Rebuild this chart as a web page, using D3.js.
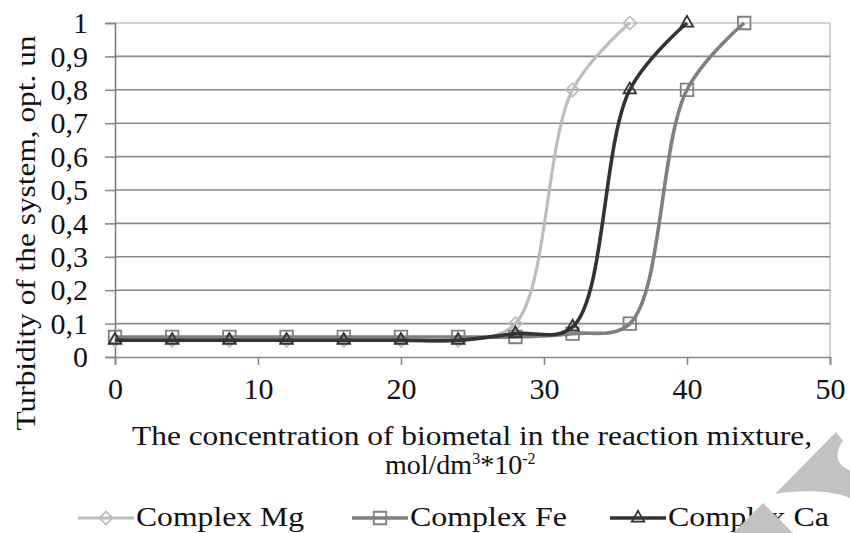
<!DOCTYPE html>
<html>
<head>
<meta charset="utf-8">
<script src="https://cdn.jsdelivr.net/npm/d3@7"></script>
<style>
  body { margin: 0; background: #fff; }
  text { font-family: "Liberation Serif", "Times New Roman", serif; fill: #111; }
</style>
</head>
<body>
<svg id="chart" width="850" height="533"></svg>
<script>
// concentration values (x) and turbidity readings for each complex
var concMg = [0, 4, 8, 12, 16, 20, 24, 28, 32, 36];
var turbMg = [0.05, 0.05, 0.05, 0.05, 0.05, 0.05, 0.05, 0.1, 0.8, 1.0];

var concFe = [0, 4, 8, 12, 16, 20, 24, 28, 32, 36, 40, 44];
var turbFe = [0.06, 0.06, 0.06, 0.06, 0.06, 0.06, 0.06, 0.06, 0.07, 0.1, 0.8, 1.0];

var concCa = [0, 4, 8, 12, 16, 20, 24, 28, 32, 36, 40];
var turbCa = [0.05, 0.05, 0.05, 0.05, 0.05, 0.05, 0.05, 0.07, 0.09, 0.8, 1.0];

var seriesNames = ["Complex Mg", "Complex Fe", "Complex Ca"];
var xTicks = [0, 10, 20, 30, 40, 50];

var svg = d3.select("#chart");

var x = d3.scaleLinear().domain([0, 50]).range([115, 830]);
var y = d3.scaleLinear().domain([0, 1]).range([357, 23]);

// рамка и сетка
svg.append("line")
    .attr("x1", 115).attr("x2", 830).attr("y1", y(1)).attr("y2", y(1))
    .attr("stroke", "#c4c4c4").attr("stroke-width", 1.5);
svg.append("line")
    .attr("x1", 830).attr("x2", 830).attr("y1", y(1)).attr("y2", y(0))
    .attr("stroke", "#c4c4c4").attr("stroke-width", 1.5);

svg.append("g")
    .selectAll("line")
    .data(y.ticks(10).filter(d => d > 0 && d < 1))
    .join("line")
    .attr("x1", 115).attr("x2", 830)
    .attr("y1", d => y(d)).attr("y2", d => y(d))
    .attr("stroke", "#8a8a8a").attr("stroke-width", 1.6);

// y axis
var yAxis = svg.append("g")
    .attr("transform", "translate(115,0)")
    .call(d3.axisLeft(y).ticks(10).tickSize(10).tickPadding(17)
        .tickFormat(d => String(d3.format(".1~f")(d)).replace(".", ",")));
yAxis.select(".domain").attr("stroke", "#777").attr("stroke-width", 1.5);
yAxis.selectAll(".tick line").attr("stroke", "#8a8a8a").attr("stroke-width", 1.6);
yAxis.selectAll(".tick text")
    .attr("font-size", 30)
    .attr("fill", "#111");

// x axis
var xAxis = svg.append("g")
    .attr("transform", "translate(0," + y(0) + ")")
    .call(d3.axisBottom(x).tickValues(xTicks).tickSize(8).tickPadding(13));
xAxis.select(".domain").attr("stroke", "#888").attr("stroke-width", 1.6);
xAxis.selectAll(".tick line").attr("stroke", "#888").attr("stroke-width", 1.6);
xAxis.selectAll(".tick text")
    .attr("font-size", 30)
    .attr("fill", "#111");

var line = d3.line()
    .x(d => x(d[0]))
    .y(d => y(d[1]))
    .curve(d3.curveCatmullRom.alpha(0.5));

var series = [
    { name: seriesNames[0], xs: concMg, ys: turbMg, color: "#bdbdbd", width: 3.2, marker: "diamond" },
    { name: seriesNames[1], xs: concFe, ys: turbFe, color: "#7f7f7f", width: 3.6, marker: "square" },
    { name: seriesNames[2], xs: concCa, ys: turbCa, color: "#333333", width: 3.6, marker: "triangle" }
];

function markerPath(type) {
    if (type == "diamond") return d3.symbol().type(d3.symbolDiamond2).size(110)();
    if (type == "square") return d3.symbol().type(d3.symbolSquare2).size(200)();
    return d3.symbol().type(d3.symbolTriangle2).size(110)();
}

series.forEach(function (s) {
    var pts = s.xs.map((v, i) => [v, s.ys[i]]);
    var g = svg.append("g");
    g.append("path")
        .attr("d", line(pts))
        .attr("fill", "none")
        .attr("stroke", s.color)
        .attr("stroke-width", s.width);
    g.selectAll("path.mk")
        .data(pts)
        .join("path")
        .attr("class", "mk")
        .attr("d", markerPath(s.marker))
        .attr("transform", d => "translate(" + x(d[0]) + "," + y(d[1]) + ")")
        .attr("fill", "none")
        .attr("stroke", s.color)
        .attr("stroke-width", 1.8);
});

// axis titles
svg.append("text")
    .attr("transform", "translate(35,233) rotate(-90)")
    .attr("text-anchor", "middle")
    .attr("font-size", 28)
    .attr("textLength", 395)
    .attr("lengthAdjust", "spacingAndGlyphs")
    .text("Turbidity  of the system, opt. un");

svg.append("text")
    .attr("x", 132).attr("y", 445)
    .attr("font-size", 28)
    .attr("textLength", 680)
    .attr("lengthAdjust", "spacingAndGlyphs")
    .text("The concentration  of biometal  in the reaction  mixture,");

var unit = svg.append("text")
    .attr("x", 385).attr("y", 474)
    .attr("font-size", 28);
unit.append("tspan").text("mol/dm");
unit.append("tspan").attr("font-size", 16).attr("dy", -10).text("3");
unit.append("tspan").attr("dy", 10).text("*10");
unit.append("tspan").attr("font-size", 16).attr("dy", -10).text("-2");

// legend
var legendX = [78, 352, 610];
var legendTextW = [168, 157, 161];
var legend = svg.append("g");
series.forEach(function (s, i) {
    var lx = legendX[i];
    legend.append("line")
        .attr("x1", lx).attr("x2", lx + 56)
        .attr("y1", 518).attr("y2", 518)
        .attr("stroke", s.color).attr("stroke-width", s.width);
    legend.append("path")
        .attr("d", markerPath(s.marker))
        .attr("transform", "translate(" + (lx + 28) + ",518)")
        .attr("fill", "none")
        .attr("stroke", s.color)
        .attr("stroke-width", 1.8);
    legend.append("text")
        .attr("x", lx + 58).attr("y", 526)
        .attr("font-size", 28)
        .attr("textLength", legendTextW[i])
        .attr("lengthAdjust", "spacingAndGlyphs")
        .text(s.name);
});

// серые пятна в правом нижнем углу
svg.append("path")
    .attr("d", "M836,432 L843,441 C834,452 836,466 850,470 L850,498 C830,490 800,490 775,494 Z")
    .attr("fill", "#c2c2c2");
svg.append("path")
    .attr("d", "M763,503 L733,533 L793,533 Z")
    .attr("fill", "#c2c2c2");
</script>
</body>
</html>
